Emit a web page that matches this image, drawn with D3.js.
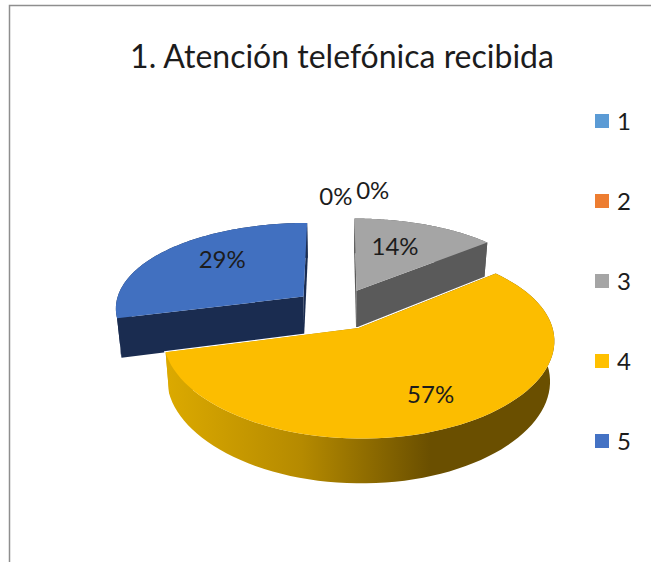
<!DOCTYPE html>
<html>
<head>
<meta charset="utf-8">
<style>
  html, body { margin: 0; background: #fff; }
  svg { display: block; }
  text { font-family: Lato, "Open Sans", sans-serif; fill: #1c1c1c; }
  .frame { fill: none; stroke: #8e8e8e; stroke-width: 1.5; }
</style>
</head>
<body>
<script src="https://cdn.jsdelivr.net/npm/d3@7/dist/d3.min.js"></script>
<script>
  const categories = ['1', '2', '3', '4', '5'];
  const values = [0, 0, 14, 57, 29];
  const title = '1. Atención telefónica recibida';

  const topColors = ['#5b9bd5', '#ed7d31', '#a5a5a5', '#fcbd00', '#4170c0'];
  const legendColors = ['#5b9bd5', '#ed7d31', '#a5a5a5', '#ffc000', '#4472c4'];
  const wallColors = ['#2e4e6b', '#773e18', '#5a5a5a', 'url(#wall4)', '#1a2c50'];
  const wallStops = [[0, '#dcaa00'], [0.35, '#b58a00'], [0.68, '#6a4f00'], [1, '#6a4f00']];

  // label position: where on the slice (radius, angle in degrees) in pie space
  const labelAt = [[1.568, -0.5], [1.69, 7.5], [0.62, 21.8], [0.72, 152.4], [0.66, 314.4]];

  const w = 651, h = 562;
  const cx = 338, cy = 309, rx = 189, ry = 88;
  const perspX = 0.12, perspY = 0.148, explode = 0.235, depth = 39;

  const svg = d3.select('body').append('svg')
    .attr('width', w).attr('height', h);

  const defs = svg.append('defs');

  const scaleX = d3.scaleLinear().domain([0, 1]).range([cx, cx + rx]);
  const scaleY = d3.scaleLinear().domain([0, 1]).range([cy, cy + ry]);

  // pie space: X to the right, Y towards the viewer, z down through the pie
  const project = (X, Y, z = 0) => {
    const kx = 1 / (1 - perspX * Y);
    const ky = 1 / (1 - perspY * Y);
    const sx = scaleX(X * kx * (1 - 0.02 * z));
    const sy = scaleY(Y * ky) + depth * z * Math.pow(ky, 0.7);
    return [sx, sy];
  };
  const polar = (r, a) => [r * Math.sin(a), -r * Math.cos(a)];

  const slices = d3.pie().sort(null).startAngle(0).endAngle(2 * Math.PI)(values);
  slices.forEach(s => {
    const mid = (s.startAngle + s.endAngle) / 2;
    const [ox, oy] = s.value > 0 ? polar(explode, mid) : [0, 0];
    s.ox = ox;
    s.oy = oy;
  });

  const line = d3.line();

  const arcPoints = (s, z) => {
    const n = 80;
    return d3.range(n + 1).map(i => {
      const a = s.startAngle + (s.endAngle - s.startAngle) * i / n;
      const [X, Y] = polar(1, a);
      return project(X + s.ox, Y + s.oy, z);
    });
  };
  const apex = (s, z) => project(s.ox, s.oy, z);

  const topPath = s => line([apex(s, 0), ...arcPoints(s, 0)]) + 'Z';
  const outerWall = s => line([...arcPoints(s, 0), ...arcPoints(s, 1).reverse()]) + 'Z';
  const cutWall = (s, end) => {
    const pts0 = arcPoints(s, 0), pts1 = arcPoints(s, 1);
    const i = end ? pts0.length - 1 : 0;
    return line([apex(s, 0), pts0[i], pts1[i], apex(s, 1)]) + 'Z';
  };

  // frame of the original chart box, right and bottom run off the page
  svg.append('path').attr('class', 'frame')
    .attr('d', line([[9.5, h], [9.5, 5.5], [w, 5.5]]));

  svg.append('text')
    .attr('x', 342).attr('y', 68)
    .attr('text-anchor', 'middle')
    .attr('font-size', 32)
    .text(title);

  const grad = defs.append('linearGradient')
    .attr('id', 'wall4')
    .attr('gradientUnits', 'userSpaceOnUse')
    .attr('x1', 165).attr('x2', 555)
    .attr('y1', 0).attr('y2', 0);
  grad.selectAll('stop').data(wallStops).join('stop')
    .attr('offset', d => d[0])
    .attr('stop-color', d => d[1]);

  const pie = svg.append('g');
  // back to front
  [4, 2, 3].forEach(i => {
    const s = slices[i];
    const g = pie.append('g');
    if (i === 3) {
      g.append('path').attr('d', topPath(s))
        .attr('fill', 'none').attr('stroke', '#fff').attr('stroke-width', 2.5);
    }
    g.append('path').attr('d', outerWall(s)).attr('fill', wallColors[i]);
    g.append('path').attr('d', cutWall(s, false)).attr('fill', wallColors[i]);
    g.append('path').attr('d', cutWall(s, true)).attr('fill', wallColors[i]);
    g.append('path').attr('d', topPath(s)).attr('fill', topColors[i]);
  });

  // percent labels
  svg.append('g').selectAll('text').data(slices).join('text')
    .attr('text-anchor', 'middle')
    .attr('font-size', 24)
    .attr('dy', '0.35em')
    .attr('transform', (s, i) => {
      const [r, deg] = labelAt[i];
      const [X, Y] = polar(r, deg * Math.PI / 180);
      const [px, py] = project(X + s.ox, Y + s.oy, 0);
      return `translate(${px},${py})`;
    })
    .text(s => `${s.value}%`);

  // legend
  const legendY = d3.scalePoint().domain(categories).range([121, 441]);
  const legend = svg.append('g').selectAll('g').data(categories).join('g')
    .attr('transform', d => `translate(595,${legendY(d)})`);
  legend.append('rect')
    .attr('x', 0).attr('y', -7).attr('width', 14).attr('height', 14)
    .attr('fill', (d, i) => legendColors[i]);
  legend.append('text')
    .attr('x', 22).attr('dy', '0.36em')
    .attr('font-size', 24)
    .text(d => d);
</script>
</body>
</html>
